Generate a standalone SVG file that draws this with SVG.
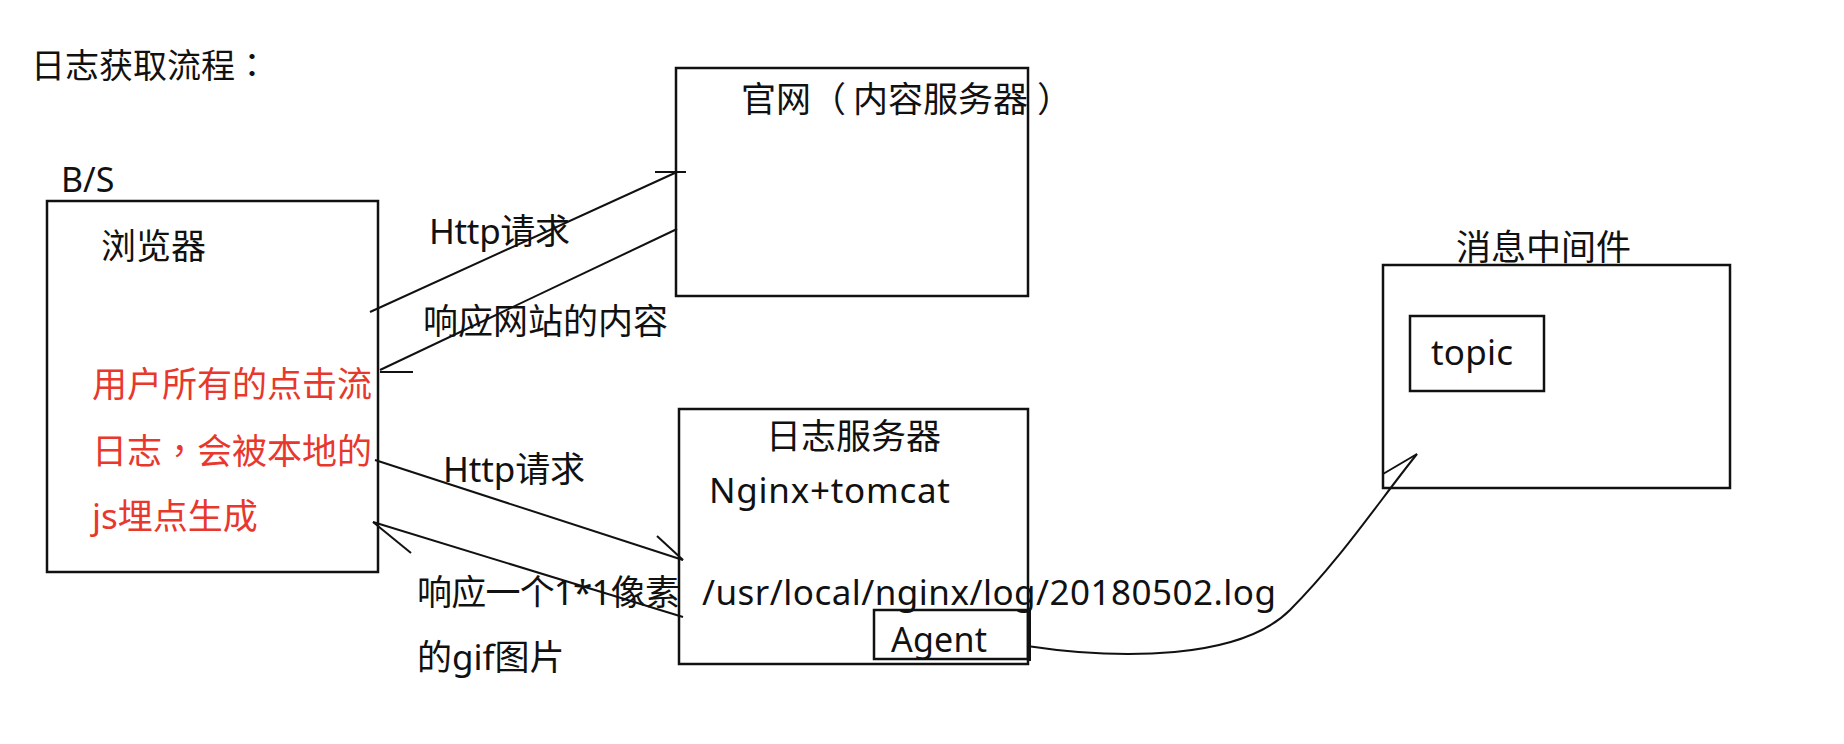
<svg xmlns="http://www.w3.org/2000/svg" width="1844" height="744" viewBox="0 0 1844 744">
<defs>
<style>
text{font-family:"Noto Sans","Noto Sans CJK SC",sans-serif;font-size:35px;fill:#111}
.tc{font-family:"Noto Sans CJK TC",sans-serif}
.red{fill:#e8382d}
.box{fill:none;stroke:#111;stroke-width:2.5}
.con{fill:none;stroke:#111;stroke-width:2}
</style>
</defs>
<rect width="1844" height="744" fill="#fff"/>
<text x="31" y="78" style="font-size:34px">日志获取流程<tspan class="tc">：</tspan></text>
<g id="browser">
<text x="61" y="192" style="font-size:34px">B/S</text>
<rect class="box" x="47" y="201" width="331" height="371"/>
<text x="101" y="259">浏览器</text>
<text class="red" x="92" y="397">用户所有的点击流</text>
<text class="red" x="92" y="464">日志<tspan class="tc">，</tspan>会被本地的</text>
<text class="red" x="92" y="529">js埋点生成</text>
</g>
<g id="website">
<rect class="box" x="676" y="68" width="352" height="228"/>
<text x="741" y="112">官网（<tspan dx="7">内容服务器</tspan><tspan dx="9">）</tspan></text>
</g>
<g id="logserver">
<rect class="box" x="679" y="409" width="349" height="255"/>
<text x="766" y="449">日志服务器</text>
<text x="709" y="503" textLength="241">Nginx+tomcat</text>
<text x="702" y="605" textLength="574">/usr/local/nginx/log/20180502.log</text>
</g>
<g id="agent">
<rect class="box" x="874" y="610" width="154" height="49"/>
<line x1="1029" y1="608" x2="1029" y2="661" stroke="#111" stroke-width="4"/>
<text x="891" y="652" style="font-size:34px" textLength="96">Agent</text>
</g>
<g id="mq">
<text x="1456" y="260">消息中间件</text>
<rect class="box" x="1383" y="265" width="347" height="223"/>
</g>
<g id="topic">
<rect class="box" x="1410" y="316" width="134" height="75"/>
<text x="1431" y="365" textLength="82">topic</text>
</g>
<g id="connectors">
<line class="con" x1="370" y1="312" x2="677" y2="172"/>
<line class="con" x1="655" y1="172" x2="686" y2="172"/>
<line class="con" x1="677" y1="229" x2="380" y2="370"/>
<line class="con" x1="380" y1="372" x2="413" y2="372"/>
<line class="con" x1="375" y1="460" x2="683" y2="560"/>
<line class="con" x1="683" y1="560" x2="657" y2="536"/>
<line class="con" x1="683" y1="617" x2="373" y2="522"/>
<line class="con" x1="373" y1="522" x2="411" y2="553"/>
<path class="con" d="M1027,646 C1120,660 1240,660 1290,610 C1340,560 1380,500 1417,454"/>
<line class="con" x1="1417" y1="454" x2="1383" y2="474"/>
<text x="429" y="244" textLength="141">Http请求</text>
<text x="423" y="334">响应网站的内容</text>
<text x="443" y="482" textLength="142">Http请求</text>
<text x="417" y="605" textLength="263">响应一个1*1像素</text>
<text x="417" y="670">的gif图片</text>
</g>
</svg>
